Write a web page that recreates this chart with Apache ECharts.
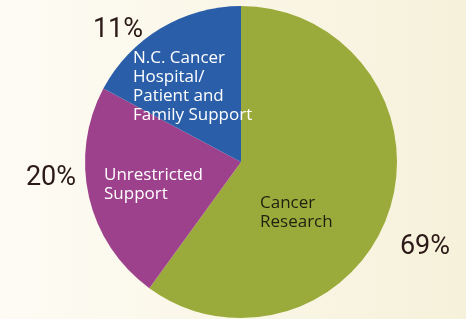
<!DOCTYPE html>
<html lang="en">
<head>
    <meta charset="UTF-8">
    <title>Pie chart</title>
    <style>
        html, body {margin: 0; padding: 0;}
        body {background: linear-gradient(to right, #fdfbf4 0%, #faf6e6 55%, #f6f1da 100%);}
        #chart {width: 466px; height: 319px;}
    </style>
</head>
<body>
    <div id="chart"></div>

    <script src="https://cdn.jsdelivr.net/npm/echarts/dist/echarts.min.js"></script>
    <script>

// slices, clockwise from 12 o'clock
const categories = ['Cancer\nResearch', 'Unrestricted\nSupport', 'N.C. Cancer\nHospital/\nPatient and\nFamily Support'];
const sliceShares = [60.0, 22.8, 17.2];      // angles as drawn in the picture
const percentLabels = ['69%', '20%', '11%']; // printed percentages
const colors = ['#9bab3b', '#9d418c', '#2a5ea9'];
const nameColors = ['#1f2010', '#ffffff', '#ffffff'];

// label anchors (left/top for names, centre for percents)
const nameSpots = [[260, 194], [104, 166], [133, 49]];
const pctSpots = [[425, 247], [51, 178], [118, 30]];

const chart = echarts.init(document.getElementById('chart'));

chart.setOption({
    animation: false,
    series: [
        {
            type: 'pie',
            center: [241, 162],
            radius: [0, 156],
            startAngle: 90,
            clockwise: true,
            silent: true,
            data: categories.map((c, i) => ({
                name: c,
                value: sliceShares[i],
                itemStyle: {color: colors[i]},
                label: {color: nameColors[i]}
            })),
            label: {
                show: true,
                position: 'inside',
                formatter: '{b}',
                fontFamily: 'Open Sans',
                fontSize: 17,
                lineHeight: 19,
                align: 'left',
                overflow: 'none'
            },
            labelLine: {show: false},
            labelLayout: function (p) {
                return {
                    x: nameSpots[p.dataIndex][0],
                    y: nameSpots[p.dataIndex][1],
                    align: 'left',
                    verticalAlign: 'top'
                };
            }
        },
        {
            type: 'pie',
            center: [241, 162],
            radius: [0, 156],
            startAngle: 90,
            clockwise: true,
            silent: true,
            data: percentLabels.map((t, i) => ({
                name: t,
                value: sliceShares[i],
                itemStyle: {color: 'transparent'}
            })),
            label: {
                show: true,
                position: 'inside',
                formatter: '{b}',
                fontFamily: 'Roboto',
                fontSize: 27,
                color: '#2b1a17',
                overflow: 'none'
            },
            labelLine: {show: false},
            labelLayout: function (p) {
                return {
                    x: pctSpots[p.dataIndex][0],
                    y: pctSpots[p.dataIndex][1],
                    align: 'center',
                    verticalAlign: 'middle'
                };
            }
        }
    ]
});
    </script>
</body>
</html>
